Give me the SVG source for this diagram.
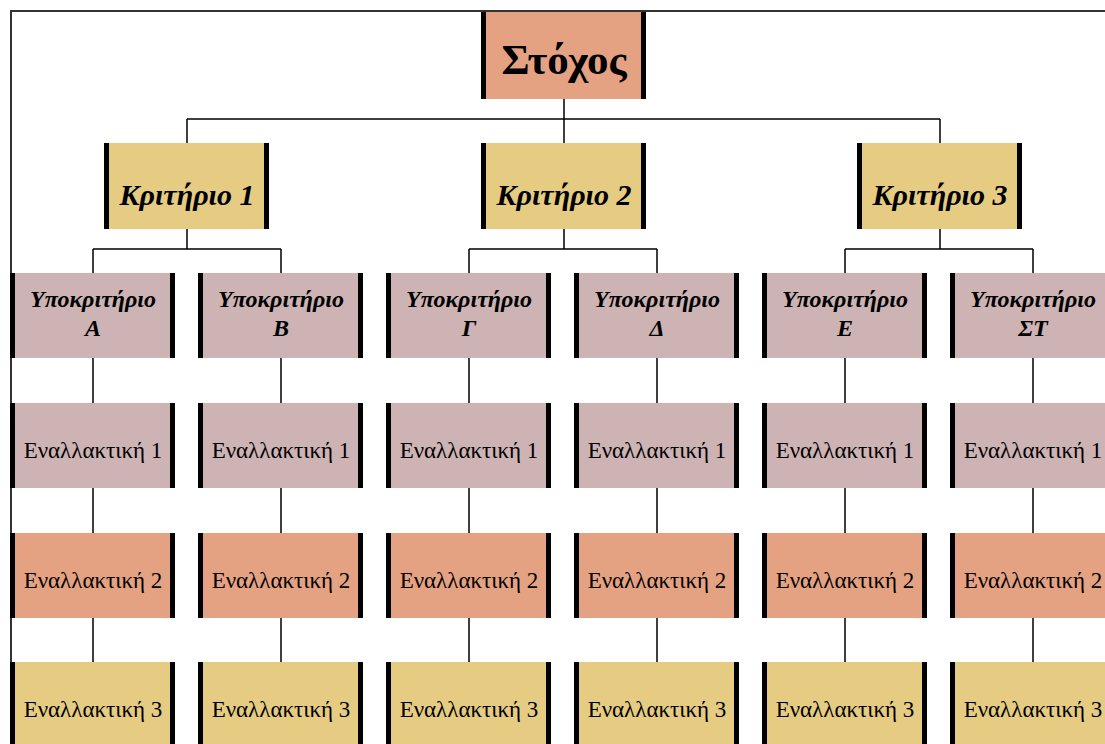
<svg xmlns="http://www.w3.org/2000/svg" width="1105" height="744" viewBox="0 0 1105 744">
<style>
.salmon{fill:#E5A282}
.gold{fill:#E5CC82}
.rose{fill:#CDB3B3}
.bar{fill:#000}
.conn{stroke:#000;stroke-width:1.5;fill:none}
.frame{stroke:#333;stroke-width:2;fill:none}
.goal{font-family:"Liberation Serif","DejaVu Serif",serif;font-weight:bold;font-size:43px;text-anchor:middle;fill:#000}
.crit{font-family:"Liberation Serif","DejaVu Serif",serif;font-weight:bold;font-style:italic;font-size:30px;text-anchor:middle;fill:#000}
.sub{font-family:"Liberation Serif","DejaVu Serif",serif;font-weight:bold;font-style:italic;font-size:24px;text-anchor:middle;fill:#000}
.alt{font-family:"Liberation Serif","DejaVu Serif",serif;font-size:23px;text-anchor:middle;fill:#000}
</style>
<rect width="1105" height="744" fill="#fff"/>
<path class="frame" d="M11,744 V11 H1105"/>
<g id="connectors">
<path class="conn" d="M564,99 V119 M187,119 H940 M187,119 V143 M564,119 V143 M940,119 V143"/>
<path class="conn" d="M187,229 V249 M93,249 H281 M93,249 V273 M281,249 V273"/>
<path class="conn" d="M564,229 V249 M469,249 H657 M469,249 V273 M657,249 V273"/>
<path class="conn" d="M940,229 V249 M845,249 H1033 M845,249 V273 M1033,249 V273"/>
<path class="conn" d="M93,358 V403 M93,488 V533 M93,618 V662"/>
<path class="conn" d="M281,358 V403 M281,488 V533 M281,618 V662"/>
<path class="conn" d="M469,358 V403 M469,488 V533 M469,618 V662"/>
<path class="conn" d="M657,358 V403 M657,488 V533 M657,618 V662"/>
<path class="conn" d="M845,358 V403 M845,488 V533 M845,618 V662"/>
<path class="conn" d="M1033,358 V403 M1033,488 V533 M1033,618 V662"/>
</g>
<g id="goal"><rect class="salmon" x="482" y="12" width="164" height="87"/><rect class="bar" x="481" y="12" width="5" height="87"/><rect class="bar" x="641" y="12" width="5" height="87"/><text class="goal" x="564" y="74">Στόχος</text></g>
<g id="crit1"><rect class="gold" x="105" y="143" width="164" height="86"/><rect class="bar" x="104" y="143" width="5" height="86"/><rect class="bar" x="264" y="143" width="5" height="86"/><text class="crit" x="187" y="205">Κριτήριο 1</text></g>
<g id="crit2"><rect class="gold" x="482" y="143" width="164" height="86"/><rect class="bar" x="481" y="143" width="5" height="86"/><rect class="bar" x="641" y="143" width="5" height="86"/><text class="crit" x="564" y="205">Κριτήριο 2</text></g>
<g id="crit3"><rect class="gold" x="858" y="143" width="164" height="86"/><rect class="bar" x="857" y="143" width="5" height="86"/><rect class="bar" x="1017" y="143" width="5" height="86"/><text class="crit" x="940" y="205">Κριτήριο 3</text></g>
<g id="subA"><rect class="rose" x="11" y="273" width="164" height="85"/><rect class="bar" x="10" y="273" width="5" height="85"/><rect class="bar" x="170" y="273" width="5" height="85"/><text class="sub" x="93" y="307">Υποκριτήριο</text><text class="sub" x="93" y="336">Α</text></g>
<g id="subB"><rect class="rose" x="199" y="273" width="164" height="85"/><rect class="bar" x="198" y="273" width="5" height="85"/><rect class="bar" x="358" y="273" width="5" height="85"/><text class="sub" x="281" y="307">Υποκριτήριο</text><text class="sub" x="281" y="336">Β</text></g>
<g id="subG"><rect class="rose" x="387" y="273" width="164" height="85"/><rect class="bar" x="386" y="273" width="5" height="85"/><rect class="bar" x="546" y="273" width="5" height="85"/><text class="sub" x="469" y="307">Υποκριτήριο</text><text class="sub" x="469" y="336">Γ</text></g>
<g id="subD"><rect class="rose" x="575" y="273" width="164" height="85"/><rect class="bar" x="574" y="273" width="5" height="85"/><rect class="bar" x="734" y="273" width="5" height="85"/><text class="sub" x="657" y="307">Υποκριτήριο</text><text class="sub" x="657" y="336">Δ</text></g>
<g id="subE"><rect class="rose" x="763" y="273" width="164" height="85"/><rect class="bar" x="762" y="273" width="5" height="85"/><rect class="bar" x="922" y="273" width="5" height="85"/><text class="sub" x="845" y="307">Υποκριτήριο</text><text class="sub" x="845" y="336">Ε</text></g>
<g id="subST"><rect class="rose" x="951" y="273" width="164" height="85"/><rect class="bar" x="950" y="273" width="5" height="85"/><rect class="bar" x="1110" y="273" width="5" height="85"/><text class="sub" x="1033" y="307">Υποκριτήριο</text><text class="sub" x="1033" y="336">ΣΤ</text></g>
<g id="a1-A"><rect class="rose" x="11" y="403" width="164" height="85"/><rect class="bar" x="10" y="403" width="5" height="85"/><rect class="bar" x="170" y="403" width="5" height="85"/><text class="alt" x="93" y="458">Εναλλακτική 1</text></g>
<g id="a1-B"><rect class="rose" x="199" y="403" width="164" height="85"/><rect class="bar" x="198" y="403" width="5" height="85"/><rect class="bar" x="358" y="403" width="5" height="85"/><text class="alt" x="281" y="458">Εναλλακτική 1</text></g>
<g id="a1-G"><rect class="rose" x="387" y="403" width="164" height="85"/><rect class="bar" x="386" y="403" width="5" height="85"/><rect class="bar" x="546" y="403" width="5" height="85"/><text class="alt" x="469" y="458">Εναλλακτική 1</text></g>
<g id="a1-D"><rect class="rose" x="575" y="403" width="164" height="85"/><rect class="bar" x="574" y="403" width="5" height="85"/><rect class="bar" x="734" y="403" width="5" height="85"/><text class="alt" x="657" y="458">Εναλλακτική 1</text></g>
<g id="a1-E"><rect class="rose" x="763" y="403" width="164" height="85"/><rect class="bar" x="762" y="403" width="5" height="85"/><rect class="bar" x="922" y="403" width="5" height="85"/><text class="alt" x="845" y="458">Εναλλακτική 1</text></g>
<g id="a1-ST"><rect class="rose" x="951" y="403" width="164" height="85"/><rect class="bar" x="950" y="403" width="5" height="85"/><rect class="bar" x="1110" y="403" width="5" height="85"/><text class="alt" x="1033" y="458">Εναλλακτική 1</text></g>
<g id="a2-A"><rect class="salmon" x="11" y="533" width="164" height="85"/><rect class="bar" x="10" y="533" width="5" height="85"/><rect class="bar" x="170" y="533" width="5" height="85"/><text class="alt" x="93" y="588">Εναλλακτική 2</text></g>
<g id="a2-B"><rect class="salmon" x="199" y="533" width="164" height="85"/><rect class="bar" x="198" y="533" width="5" height="85"/><rect class="bar" x="358" y="533" width="5" height="85"/><text class="alt" x="281" y="588">Εναλλακτική 2</text></g>
<g id="a2-G"><rect class="salmon" x="387" y="533" width="164" height="85"/><rect class="bar" x="386" y="533" width="5" height="85"/><rect class="bar" x="546" y="533" width="5" height="85"/><text class="alt" x="469" y="588">Εναλλακτική 2</text></g>
<g id="a2-D"><rect class="salmon" x="575" y="533" width="164" height="85"/><rect class="bar" x="574" y="533" width="5" height="85"/><rect class="bar" x="734" y="533" width="5" height="85"/><text class="alt" x="657" y="588">Εναλλακτική 2</text></g>
<g id="a2-E"><rect class="salmon" x="763" y="533" width="164" height="85"/><rect class="bar" x="762" y="533" width="5" height="85"/><rect class="bar" x="922" y="533" width="5" height="85"/><text class="alt" x="845" y="588">Εναλλακτική 2</text></g>
<g id="a2-ST"><rect class="salmon" x="951" y="533" width="164" height="85"/><rect class="bar" x="950" y="533" width="5" height="85"/><rect class="bar" x="1110" y="533" width="5" height="85"/><text class="alt" x="1033" y="588">Εναλλακτική 2</text></g>
<g id="a3-A"><rect class="gold" x="11" y="662" width="164" height="90"/><rect class="bar" x="10" y="662" width="5" height="90"/><rect class="bar" x="170" y="662" width="5" height="90"/><text class="alt" x="93" y="717">Εναλλακτική 3</text></g>
<g id="a3-B"><rect class="gold" x="199" y="662" width="164" height="90"/><rect class="bar" x="198" y="662" width="5" height="90"/><rect class="bar" x="358" y="662" width="5" height="90"/><text class="alt" x="281" y="717">Εναλλακτική 3</text></g>
<g id="a3-G"><rect class="gold" x="387" y="662" width="164" height="90"/><rect class="bar" x="386" y="662" width="5" height="90"/><rect class="bar" x="546" y="662" width="5" height="90"/><text class="alt" x="469" y="717">Εναλλακτική 3</text></g>
<g id="a3-D"><rect class="gold" x="575" y="662" width="164" height="90"/><rect class="bar" x="574" y="662" width="5" height="90"/><rect class="bar" x="734" y="662" width="5" height="90"/><text class="alt" x="657" y="717">Εναλλακτική 3</text></g>
<g id="a3-E"><rect class="gold" x="763" y="662" width="164" height="90"/><rect class="bar" x="762" y="662" width="5" height="90"/><rect class="bar" x="922" y="662" width="5" height="90"/><text class="alt" x="845" y="717">Εναλλακτική 3</text></g>
<g id="a3-ST"><rect class="gold" x="951" y="662" width="164" height="90"/><rect class="bar" x="950" y="662" width="5" height="90"/><rect class="bar" x="1110" y="662" width="5" height="90"/><text class="alt" x="1033" y="717">Εναλλακτική 3</text></g>
</svg>
